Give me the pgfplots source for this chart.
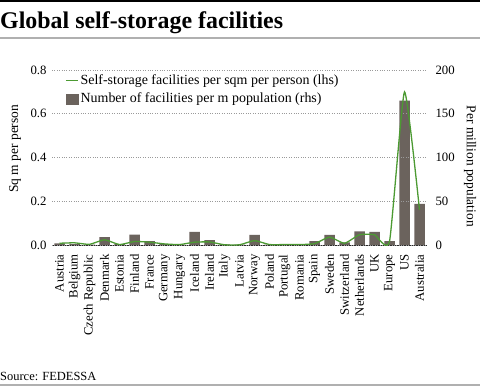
\documentclass[border=0pt]{standalone}
\usepackage{pgfplots}
\pgfplotsset{compat=1.18}
\usepackage{pgfplotstable}
\usepackage{fontspec}
\setmainfont{Liberation Serif}
\definecolor{barc}{HTML}{6B635D}
\definecolor{linec}{HTML}{4C9A32}
\definecolor{gridc}{HTML}{9A9A9A}
\definecolor{rulec}{HTML}{B0B0B0}
\pgfplotstableread{
idx bars line
0 2 0.008
1 1 0.010
2 0.5 0.003
3 9 0.024
4 1 0.002
5 12 0.016
6 4.5 0.013
7 1 0.005
8 0.5 0.002
9 15 0.013
10 5.5 0.014
11 0.8 0.001
12 0.5 0.001
13 11.5 0.020
14 0.5 0.002
15 0.5 0.002
16 0.3 0.002
17 4.5 0.006
18 11.5 0.036
19 3 0.008
20 15.5 0.047
21 15 0.047
22 4.5 0.017
23 165 0.700
24 47 0.160
}\data
\begin{document}
\begin{tikzpicture}[x=1bp,y=1bp]
\path[use as bounding box] (-52,-141) rectangle (428,245);
% rules and texts
\draw[black, line width=1.6bp] (-52,244) -- (428,244);
\draw[rulec, line width=1.2bp] (-52,207) -- (428,207);
\node[anchor=base west, inner sep=0, font=\fontsize{24}{26}\selectfont\bfseries] at (-52,217) {Global self-storage facilities};
\node[anchor=base west, inner sep=0, font=\fontsize{12.5}{14}\selectfont] at (-52,-135) {Source: FEDESSA};
\draw[rulec, line width=1.2bp] (-52,-140) -- (428,-140);
% bars, right axis
\begin{axis}[
  at={(0,0)}, anchor=south west,
  scale only axis, width=375bp, height=175bp,
  xmin=-0.5, xmax=24.5, ymin=0, ymax=200,
  axis x line*=bottom, axis y line*=right,
  x axis line style={draw=black!85, line width=0.8bp, -},
  y axis line style={draw=none},
  ytick={0,50,100,150,200},
  major tick length=0pt,
  xtick={0,...,24},
  xticklabels={Austria,Belgium,Czech Republic,Denmark,Estonia,Finland,France,Germany,Hungary,Iceland,Ireland,Italy,Latvia,Norway,Poland,Portugal,Romania,Spain,Sweden,Switzerland,Netherlands,UK,Europe,US,Australia},
  x tick label style={rotate=90, anchor=east, font=\fontsize{12.8}{14}\selectfont, xshift=-6bp},
  y tick label style={font=\fontsize{12.8}{14}\selectfont, xshift=5bp},
  /pgf/number format/assume math mode=true,
  ylabel={Per million population},
  ylabel style={font=\fontsize{13.5}{15}\selectfont, at={(axis description cs:1,0.45)}, yshift=-43bp, anchor=center, rotate=180},
  ybar, bar width=10.5bp,
]
\addplot[fill=barc, draw=none] table[x=idx, y=bars] {\data};
\end{axis}
% line, left axis
\begin{axis}[
  at={(0,0)}, anchor=south west,
  scale only axis, width=375bp, height=175bp,
  xmin=-0.5, xmax=24.5, ymin=0, ymax=0.8,
  axis x line=none, axis y line*=left,
  y axis line style={draw=none},
  ytick={0,0.2,0.4,0.6,0.8},
  yticklabels={0.0,0.2,0.4,0.6,0.8},
  major tick length=0pt,
  ymajorgrids, grid style={gridc, dotted, line width=0.7bp},
  y tick label style={font=\fontsize{12.8}{14}\selectfont, xshift=-2bp},
  /pgf/number format/assume math mode=true,
  ylabel={Sq m per person},
  ylabel style={font=\fontsize{13.5}{15}\selectfont, at={(axis description cs:0,0.55)}, yshift=37bp, anchor=center},
  legend style={at={(0.035,0.985)}, anchor=north west, draw=none, fill=none, font=\fontsize{14}{16}\selectfont, row sep=3bp, inner sep=0pt},
  legend cell align=left,
  legend image code/.code={\draw[#1] (0bp,0bp) -- (12bp,0bp);},
]
\addplot[linec, line width=1.3bp, smooth, tension=0.3] table[x=idx, y=line] {\data};
\addlegendentry{Self-storage facilities per sqm per person (lhs)}
\addlegendimage{legend image code/.code={\fill[barc] (0bp,-5bp) rectangle (12bp,5bp);}}
\addlegendentry{Number of facilities per m population (rhs)}
\end{axis}
\end{tikzpicture}
\end{document}
